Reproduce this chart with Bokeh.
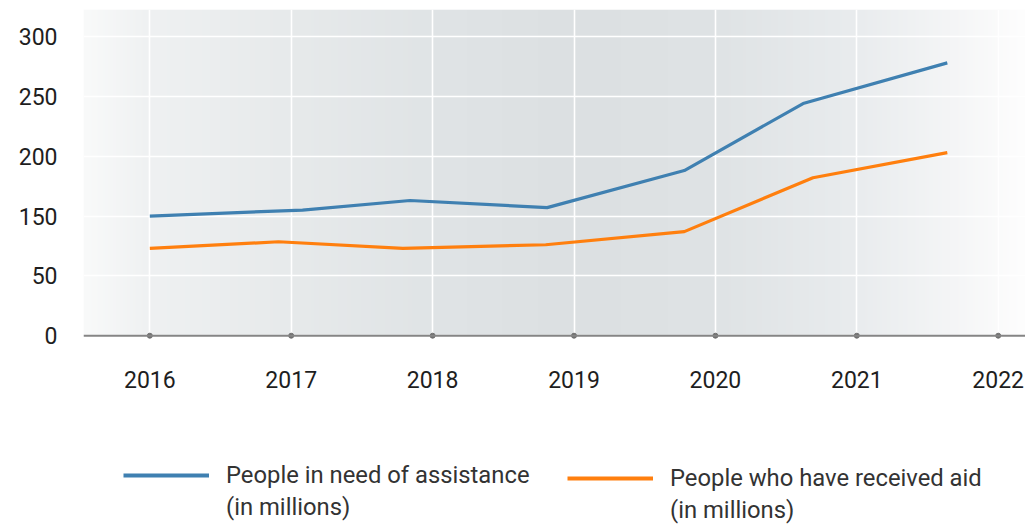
import numpy as np
from bokeh.plotting import figure
from bokeh.layouts import column
from bokeh.models import FixedTicker, Span, Legend, LegendItem, Range1d
from bokeh.embed import file_html
from bokeh.resources import INLINE

# ---- data -------------------------------------------------------------
years = [2016, 2017, 2018, 2019, 2020, 2021, 2022]
year_labels = ["2016", "2017", "2018", "2019", "2020", "2021", "2022"]

# y axis as drawn: evenly spaced ticks, labelled 0, 50, 150, 200, 250, 300
y_tick_values = [0, 50, 150, 200, 250, 300]
y_tick_labels = ["0", "50", "150", "200", "250", "300"]

need_label = ["People in need of assistance", "(in millions)"]
need_x = [2016.0, 2017.08, 2017.84, 2018.81, 2019.78, 2020.62, 2021.64]
need_y = [150, 155, 163, 157, 188, 244, 278]

aid_label = ["People who have received aid", "(in millions)"]
aid_x = [2016.0, 2016.91, 2017.79, 2018.80, 2019.78, 2020.69, 2021.64]
aid_y = [96, 107, 96, 102, 124, 182, 203]

need_color = "#3f80b1"
aid_color = "#ff7f0e"

# ---- axis position mapping (ticks are evenly spaced) ------------------
tick_pos = [50 * i for i in range(len(y_tick_values))]
def to_pos(vals):
    return np.interp(vals, y_tick_values, tick_pos)

X0, X1 = 2015.531, 2022.193
Y0, Y1 = -4, 272.6

p = figure(width=1025, height=400, output_backend="svg", toolbar_location=None,
           x_range=Range1d(X0, X1), y_range=Range1d(Y0, Y1),
           min_border_left=83, min_border_right=0, min_border_top=9,
           min_border_bottom=60)
p.outline_line_color = None
p.background_fill_color = "white"
p.border_fill_color = "white"

# ---- gradient background ------------------------------------------------
N = 942
stops_f = [0.0, 0.07, 0.22, 0.37, 0.52, 0.67, 0.82, 0.92, 1.0]
stops_c = ["#f9fafa", "#eff1f2", "#e7eaeb", "#e0e4e6", "#dce0e2",
           "#dfe3e5", "#e9ecee", "#f4f5f6", "#fefefe"]
def hex2rgb(h):
    return [int(h[i:i + 2], 16) for i in (1, 3, 5)]
rgb = np.array([hex2rgb(c) for c in stops_c], dtype=float)
f = np.linspace(0, 1, N)
r = np.interp(f, stops_f, rgb[:, 0]).astype(np.uint32)
g = np.interp(f, stops_f, rgb[:, 1]).astype(np.uint32)
b = np.interp(f, stops_f, rgb[:, 2]).astype(np.uint32)
img = (255 << 24) | (b << 16) | (g << 8) | r
img = img.reshape(1, N).astype(np.uint32)
p.image_rgba(image=[img], x=X0, y=0, dw=X1 - X0, dh=Y1, level="image")

# ---- grid ------------------------------------------------------------------
p.xgrid.ticker = FixedTicker(ticks=years)
p.ygrid.ticker = FixedTicker(ticks=tick_pos)
p.grid.grid_line_color = "white"
p.grid.grid_line_width = 1.6

# ---- axes ------------------------------------------------------------------
p.xaxis.ticker = FixedTicker(ticks=years)
p.xaxis.major_label_overrides = {y: l for y, l in zip(years, year_labels)}
p.yaxis.ticker = FixedTicker(ticks=tick_pos)
p.yaxis.major_label_overrides = {tp: l for tp, l in zip(tick_pos, y_tick_labels)}
for ax in (p.xaxis, p.yaxis):
    ax.axis_line_color = None
    ax.major_tick_line_color = None
    ax.minor_tick_line_color = None
    ax.major_tick_out = 0
    ax.major_tick_in = 0
    ax.major_label_text_font = "Roboto"
    ax.major_label_text_font_size = "23px"
    ax.major_label_text_color = "#1e1e1e"
p.xaxis.major_label_standoff = 30
p.yaxis.major_label_standoff = 26

base = Span(location=0, dimension="width", line_color="#858585", line_width=2)
p.add_layout(base)
p.scatter(years, [0] * len(years), size=5, color="#707070")

# ---- lines -------------------------------------------------------------------
p.line(need_x, to_pos(need_y), line_color=need_color, line_width=3.2)
p.line(aid_x, to_pos(aid_y), line_color=aid_color, line_width=3.2)

# ---- legend strip (separate figure below the chart) ----------------------
# The same series are drawn here but the y range keeps them out of view,
# so only the legend entries show. The second text line of each entry uses
# a transparent copy so that it gets no swatch.
lg = figure(width=1025, height=125, output_backend="svg", toolbar_location=None,
            x_range=Range1d(X0, X1), y_range=Range1d(-1000, -999),
            min_border_left=0, min_border_right=0, min_border_top=0,
            min_border_bottom=0)
lg.axis.visible = False
lg.grid.visible = False
lg.outline_line_color = None
lg.background_fill_color = "white"
lg.border_fill_color = "white"
ln_need = lg.line(need_x, to_pos(need_y), line_color=need_color, line_width=4)
ln_need2 = lg.line(need_x, to_pos(need_y), line_color=need_color, line_alpha=0)
ln_aid = lg.line(aid_x, to_pos(aid_y), line_color=aid_color, line_width=4)
ln_aid2 = lg.line(aid_x, to_pos(aid_y), line_color=aid_color, line_alpha=0)

common = dict(orientation="vertical", border_line_color=None,
              background_fill_alpha=0, padding=0, margin=0,
              glyph_width=86, glyph_height=20, label_standoff=17, spacing=4,
              label_text_font="Roboto", label_text_font_size="23.8px",
              label_text_color="#333333")
leg_need = Legend(items=[LegendItem(label=need_label[0], renderers=[ln_need]),
                         LegendItem(label=need_label[1], renderers=[ln_need2])],
                  location=(40, 4), **common)
leg_aid = Legend(items=[LegendItem(label=aid_label[0], renderers=[ln_aid]),
                        LegendItem(label=aid_label[1], renderers=[ln_aid2])],
                 location=(484, 1), **common)
lg.add_layout(leg_need)
lg.add_layout(leg_aid)

layout = column(p, lg, spacing=0)
open("out.html", "w").write(file_html(layout, INLINE))
